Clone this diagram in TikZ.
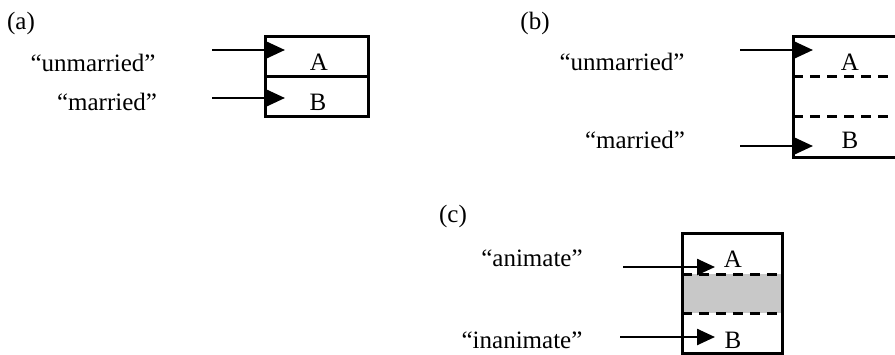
\documentclass[tikz,border=0pt]{standalone}
\usepackage{fontspec}
\setmainfont{Liberation Serif}
\usetikzlibrary{arrows.meta}
\definecolor{boxgray}{HTML}{C8C8C8}
\tikzset{
  lbl/.style={anchor=base, inner sep=0pt, font=\fontsize{25}{30}\selectfont},
  cell/.style={draw, line width=3pt, inner sep=0pt},
  dline/.style={line width=3pt, dash pattern=on 10pt off 7pt},
  ptr/.style={line width=2.5pt, -{Triangle[length=18pt,width=16pt]}},
}
\begin{document}
\begin{tikzpicture}[x=1pt,y=-1pt]
\clip (0,0) rectangle (895,354);
% ---------- (a) ----------
\node[lbl] (la) at (21,29) {(a)};
\node[cell, minimum width=103pt, minimum height=40pt] (a1) at (316.5,56) {};
\node[cell, minimum width=103pt, minimum height=40pt] (a2) at (316.5,96) {};
\node[lbl] (au) at (93,71) {“unmarried”};
\node[lbl] (am) at (107,110) {“married”};
\node[lbl] (aA) at (319,70) {A};
\node[lbl] (aB) at (318,110) {B};
\coordinate (as1) at (212,50);
\coordinate (at1) at (285,50);
\coordinate (as2) at (212,98);
\coordinate (at2) at (285,98);
\draw[ptr] (as1) -- (at1);
\draw[ptr] (as2) -- (at2);
% ---------- (b) ----------
\node[lbl] (lb) at (535,29) {(b)};
\node[cell, minimum width=120pt, minimum height=121pt] (bx) at (853,96.5) {};
\coordinate (bd1l) at (793,76);
\coordinate (bd1r) at (895,76);
\coordinate (bd2l) at (793,116);
\coordinate (bd2r) at (895,116);
\draw[dline] (bd1l) -- (bd1r);
\draw[dline] (bd2l) -- (bd2r);
\node[lbl] (bu) at (622,70) {“unmarried”};
\node[lbl] (bm) at (635,148) {“married”};
\node[lbl] (bA) at (850,70) {A};
\node[lbl] (bB) at (850,148) {B};
\coordinate (bs1) at (740,50);
\coordinate (bt1) at (813,50);
\coordinate (bs2) at (740,146);
\coordinate (bt2) at (813,146);
\draw[ptr] (bs1) -- (bt1);
\draw[ptr] (bs2) -- (bt2);
% ---------- (c) ----------
\node[lbl] (lc) at (453,222) {(c)};
\fill[boxgray] (682,274) rectangle (782,313);
\node[cell, minimum width=100pt, minimum height=120pt] (cx) at (732,293) {};
\coordinate (cd1l) at (682,274);
\coordinate (cd1r) at (782,274);
\coordinate (cd2l) at (682,313);
\coordinate (cd2r) at (782,313);
\draw[dline] (cd1l) -- (cd1r);
\draw[dline] (cd2l) -- (cd2r);
\node[lbl] (ca) at (532,266) {“animate”};
\node[lbl] (ci) at (522,348) {“inanimate”};
\node[lbl] (cA) at (733,267) {A};
\node[lbl] (cB) at (733,348) {B};
\coordinate (cs1) at (623,267);
\coordinate (ct1) at (715,267);
\coordinate (cs2) at (620,337);
\coordinate (ct2) at (715,337);
\draw[ptr] (cs1) -- (ct1);
\draw[ptr] (cs2) -- (ct2);
\end{tikzpicture}
\end{document}
